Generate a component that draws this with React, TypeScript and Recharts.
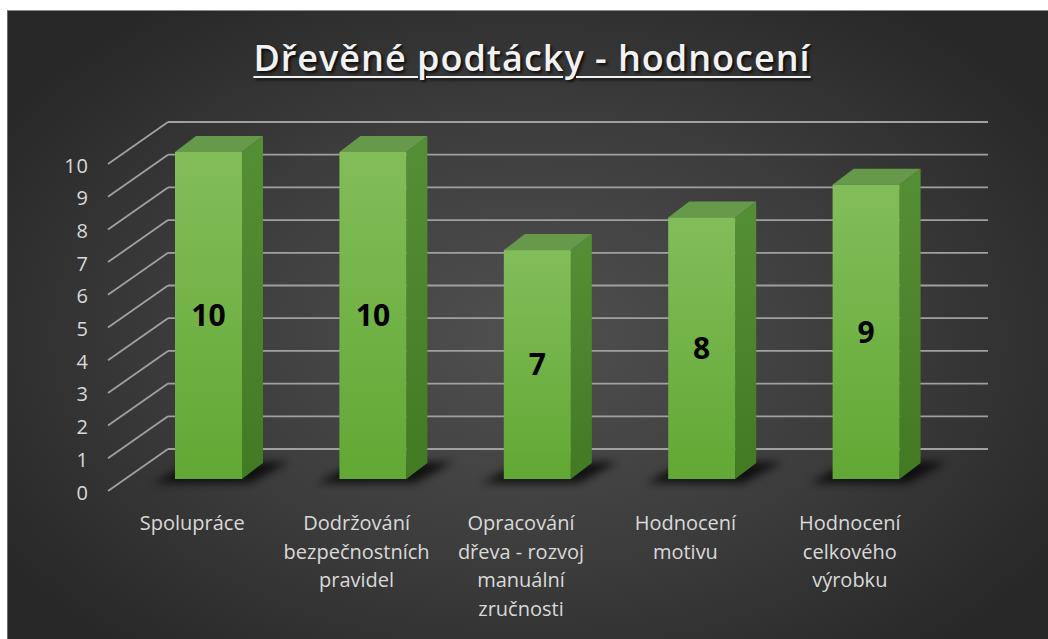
import { BarChart, Bar, XAxis, YAxis, CartesianGrid, LabelList } from "recharts";

const categories = [
  "Spolupráce",
  "Dodržování\nbezpečnostních\npravidel",
  "Opracování\ndřeva - rozvoj\nmanuální\nzručnosti",
  "Hodnocení\nmotivu",
  "Hodnocení\ncelkového\nvýrobku",
];
const scores = [10, 10, 7, 8, 9];
const yTicks = [0, 1, 2, 3, 4, 5, 6, 7, 8, 9, 10];

const data = categories.map((name, i) => ({ name, score: scores[i] }));

// 3d depth of a bar and of the back wall
const DX = 21;
const DY = 16;
const WALL_DX = 42;
const WALL_DY = 30;

const Bar3D = (props: any) => {
  const { x, y, width: w, height: h } = props;
  const b = y + h;
  return (
    <g>
      <polygon
        points={`${x - 22},${b + 4} ${x + w + 8},${b + 4} ${x + w + DX + 26},${b - DY - 1} ${x + DX - 4},${b - DY - 1}`}
        fill="#000"
        opacity={0.75}
        filter="url(#shadowBlur)"
      />
      <polygon
        points={`${x + w},${y} ${x + w + DX},${y - DY} ${x + w + DX},${b - DY} ${x + w},${b}`}
        fill="url(#sideGrad)"
      />
      <polygon
        points={`${x},${y} ${x + DX},${y - DY} ${x + w + DX},${y - DY} ${x + w},${y}`}
        fill="#66994a"
      />
      <rect x={x} y={y} width={w} height={h} fill="url(#frontGrad)" />
    </g>
  );
};

// tick x arrives at the plot's left edge (tickSize and tickMargin are 0)
const YTick = (props: any) => {
  const { x, y, payload } = props;
  return (
    <g>
      <line x1={x - 18} y1={y + 12} x2={x + WALL_DX} y2={y - WALL_DY} stroke="#a0a0a0" strokeWidth={1.8} />
      <text
        x={x - 37}
        y={y + 13}
        textAnchor="end"
        dominantBaseline="central"
        fill="#d9d9d9"
        fontSize={20}
        fontFamily="Open Sans"
        letterSpacing={1}
      >
        {payload.value}
      </text>
    </g>
  );
};

const XTick = (props: any) => {
  const { x, y, payload } = props;
  const lines = String(payload.value).split("\n");
  return (
    <text x={x - 16} y={y + 51} textAnchor="middle" fill="#d9d9d9" fontSize={20} fontFamily="Open Sans">
      {lines.map((l, i) => (
        <tspan key={i} x={x - 16} dy={i === 0 ? 0 : 28.5}>
          {l}
        </tspan>
      ))}
    </text>
  );
};

const GridLine = (props: any) => {
  const { x1, x2, y1 } = props;
  return (
    <line
      key={props.key}
      x1={x1 + WALL_DX}
      x2={x2 + 40}
      y1={y1 - WALL_DY}
      y2={y1 - WALL_DY}
      stroke="#a0a0a0"
      strokeWidth={1.8}
    />
  );
};

export default function App() {
  return (
    <div style={{ position: "absolute", left: 0, top: 0, width: 1048, height: 639, background: "#fff", overflow: "hidden" }}>
      <div
        style={{
          position: "absolute",
          left: 7,
          top: 10,
          width: 1041,
          height: 629,
          borderTop: "1px solid #8a8a8a",
          borderLeft: "1px solid #6a6a6a",
          boxSizing: "border-box",
          background: "radial-gradient(ellipse 60% 65% at 50% 52%, #505050 0%, #3c3c3c 55%, #282828 100%)",
        }}
      />
      <div
        style={{
          position: "absolute",
          left: 16,
          top: 38,
          width: 1032,
          textAlign: "center",
          fontFamily: "Open Sans",
          fontWeight: 600,
          fontSize: 36,
          lineHeight: "40px",
          letterSpacing: 1,
          color: "#f2f2f2",
          textDecoration: "underline",
          textUnderlineOffset: 5,
          textDecorationThickness: 2,
          textShadow: "2px 2px 3px rgba(0,0,0,0.8)",
        }}
      >
        Dřevěné podtácky - hodnocení
      </div>
      <div style={{ position: "absolute", left: 0, top: 0 }}>
        <BarChart width={1048} height={639} data={data} margin={{ top: 152, right: 100, bottom: 130, left: 66 }}>
          <defs>
            <linearGradient id="frontGrad" x1="0" y1="0" x2="0" y2="1">
              <stop offset="0%" stopColor="#82bd5a" />
              <stop offset="100%" stopColor="#62a834" />
            </linearGradient>
            <linearGradient id="sideGrad" x1="0" y1="0" x2="0" y2="1">
              <stop offset="0%" stopColor="#558f35" />
              <stop offset="100%" stopColor="#427a24" />
            </linearGradient>
            <filter id="shadowBlur" x="-50%" y="-100%" width="200%" height="300%">
              <feGaussianBlur stdDeviation="4" />
            </filter>
          </defs>
          <CartesianGrid vertical={false} horizontal={GridLine} />
          <XAxis
            dataKey="name"
            interval={0}
            height={30}
            axisLine={false}
            tickLine={false}
            tickSize={0}
            tickMargin={0}
            tick={XTick}
          />
          <YAxis
            width={60}
            domain={[0, 10]}
            ticks={yTicks}
            interval={0}
            axisLine={false}
            tickLine={false}
            tickSize={0}
            tickMargin={0}
            tick={YTick}
          />
          <Bar dataKey="score" barSize={67} shape={Bar3D} isAnimationActive={false}>
            <LabelList
              dataKey="score"
              position="center"
              fill="#000"
              fontSize={30}
              fontWeight="bold"
              fontFamily="Open Sans"
            />
          </Bar>
        </BarChart>
      </div>
    </div>
  );
}
